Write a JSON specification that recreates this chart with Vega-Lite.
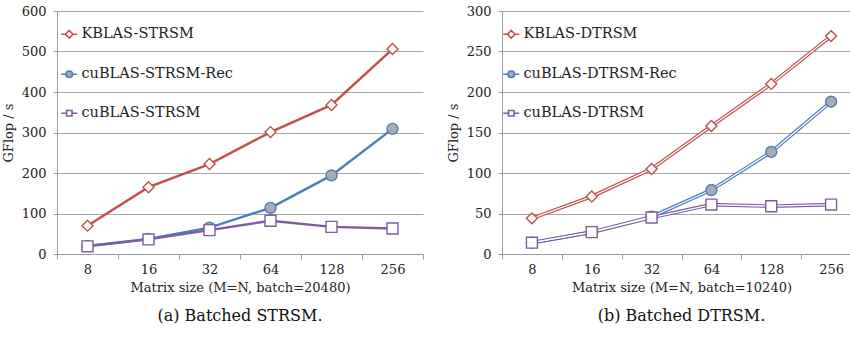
{
  "$schema": "https://vega.github.io/schema/vega-lite/v6.json",
  "background": "white",
  "padding": {"left": 2, "top": 5, "right": 0, "bottom": 5},
  "datasets": {
    "strsm": [
      {"size": "8", "series": "KBLAS-STRSM", "gflops": 70},
      {"size": "16", "series": "KBLAS-STRSM", "gflops": 165},
      {"size": "32", "series": "KBLAS-STRSM", "gflops": 222},
      {"size": "64", "series": "KBLAS-STRSM", "gflops": 301},
      {"size": "128", "series": "KBLAS-STRSM", "gflops": 368},
      {"size": "256", "series": "KBLAS-STRSM", "gflops": 506},
      {"size": "8", "series": "cuBLAS-STRSM-Rec", "gflops": 20},
      {"size": "16", "series": "cuBLAS-STRSM-Rec", "gflops": 37},
      {"size": "32", "series": "cuBLAS-STRSM-Rec", "gflops": 65},
      {"size": "64", "series": "cuBLAS-STRSM-Rec", "gflops": 114},
      {"size": "128", "series": "cuBLAS-STRSM-Rec", "gflops": 194},
      {"size": "256", "series": "cuBLAS-STRSM-Rec", "gflops": 309},
      {"size": "8", "series": "cuBLAS-STRSM", "gflops": 19},
      {"size": "16", "series": "cuBLAS-STRSM", "gflops": 36},
      {"size": "32", "series": "cuBLAS-STRSM", "gflops": 59},
      {"size": "64", "series": "cuBLAS-STRSM", "gflops": 82},
      {"size": "128", "series": "cuBLAS-STRSM", "gflops": 67},
      {"size": "256", "series": "cuBLAS-STRSM", "gflops": 63}
    ],
    "dtrsm": [
      {"size": "8", "series": "KBLAS-DTRSM", "gflops": 44},
      {"size": "16", "series": "KBLAS-DTRSM", "gflops": 71},
      {"size": "32", "series": "KBLAS-DTRSM", "gflops": 105},
      {"size": "64", "series": "KBLAS-DTRSM", "gflops": 158},
      {"size": "128", "series": "KBLAS-DTRSM", "gflops": 210},
      {"size": "256", "series": "KBLAS-DTRSM", "gflops": 269},
      {"size": "8", "series": "cuBLAS-DTRSM-Rec", "gflops": 14},
      {"size": "16", "series": "cuBLAS-DTRSM-Rec", "gflops": 27},
      {"size": "32", "series": "cuBLAS-DTRSM-Rec", "gflops": 46},
      {"size": "64", "series": "cuBLAS-DTRSM-Rec", "gflops": 79},
      {"size": "128", "series": "cuBLAS-DTRSM-Rec", "gflops": 126},
      {"size": "256", "series": "cuBLAS-DTRSM-Rec", "gflops": 188},
      {"size": "8", "series": "cuBLAS-DTRSM", "gflops": 14},
      {"size": "16", "series": "cuBLAS-DTRSM", "gflops": 27},
      {"size": "32", "series": "cuBLAS-DTRSM", "gflops": 45},
      {"size": "64", "series": "cuBLAS-DTRSM", "gflops": 61},
      {"size": "128", "series": "cuBLAS-DTRSM", "gflops": 59},
      {"size": "256", "series": "cuBLAS-DTRSM", "gflops": 61}
    ]
  },
  "config": {
    "font": "DejaVu Serif",
    "view": {"stroke": null},
    "concat": {"spacing": 23},
    "axis": {
      "labelFont": "DejaVu Serif",
      "titleFont": "DejaVu Serif",
      "labelFontSize": 13,
      "titleFontSize": 13,
      "titleFontWeight": "normal",
      "labelColor": "#222222",
      "titleColor": "#222222",
      "domainColor": "#9a9a9a",
      "tickColor": "#9a9a9a",
      "gridColor": "#a6a6a6",
      "gridWidth": 1
    },
    "legend": {
      "labelFont": "DejaVu Serif",
      "labelFontSize": 14.5,
      "labelColor": "#222222",
      "orient": "none",
      "legendY": 16,
      "rowPadding": 24,
      "symbolSize": 100,
      "labelOffset": 5,
      "padding": 0
    },
    "title": {"font": "DejaVu Serif", "fontSize": 16, "fontWeight": "normal", "color": "#111111"}
  },
  "resolve": {
    "scale": {"x": "independent", "y": "independent", "color": "independent", "fill": "independent", "shape": "independent"},
    "legend": {"color": "independent", "fill": "independent", "shape": "independent"}
  },
  "hconcat": [
    {
      "width": 366,
      "height": 243,
      "data": {"name": "strsm"},
      "title": {"text": "(a) Batched STRSM.", "orient": "bottom", "offset": 14},
      "encoding": {
        "x": {
          "field": "size", "type": "ordinal",
          "sort": ["8", "16", "32", "64", "128", "256"],
          "scale": {"type": "band", "paddingInner": 0, "paddingOuter": 0},
          "axis": {"title": "Matrix size (M=N, batch=20480)", "labelAngle": 0, "tickBand": "extent", "grid": false, "tickSize": 5, "labelPadding": 4, "titlePadding": 5}
        },
        "y": {
          "field": "gflops", "type": "quantitative",
          "scale": {"domain": [0, 600], "nice": false},
          "axis": {"title": "GFlop / s", "values": [0, 100, 200, 300, 400, 500, 600], "grid": true, "tickSize": 4, "labelPadding": 7, "titlePadding": 6}
        },
        "color": {"field": "series", "type": "nominal",
          "scale": {"domain": ["KBLAS-STRSM", "cuBLAS-STRSM-Rec", "cuBLAS-STRSM"], "range": ["#c0504d", "#4a7ebb", "#7d5d9e"]},
          "legend": {
            "title": null,
            "legendX": 5,
            "encode": {
              "symbols": {
                "update": {
                  "shape": {"signal": "datum.value === 'KBLAS-STRSM' ? 'M-1.6,0L-0.75,0M0.75,0L1.6,0M0,-0.75L0.75,0L0,0.75L-0.75,0Z' : datum.value === 'cuBLAS-STRSM-Rec' ? 'M-1.6,0L-0.65,0M0.65,0L1.6,0M-0.65,0A0.65,0.65 0 1,0 0.65,0A0.65,0.65 0 1,0 -0.65,0Z' : 'M-1.6,0L-0.55,0M0.55,0L1.6,0M-0.55,-0.55L0.55,-0.55L0.55,0.55L-0.55,0.55Z'"},
                  "stroke": {"signal": "datum.value === 'KBLAS-STRSM' ? '#c0504d' : datum.value === 'cuBLAS-STRSM-Rec' ? '#4a7ebb' : '#7d5d9e'"},
                  "fill": {"signal": "datum.value === 'cuBLAS-STRSM-Rec' ? '#a8acb2' : '#ffffff'"},
                  "strokeWidth": {"value": 1.6},
                  "size": {"value": 100},
                  "opacity": {"value": 1}
                }
              }
            }
          }}
      },
      "layer": [
        {
          "mark": {"type": "line", "strokeWidth": 2.4}
        },
        {
          "mark": {"type": "point", "filled": false, "opacity": 1, "strokeWidth": 1.4, "size": 120},
          "encoding": {
            "fill": {"field": "series", "type": "nominal", "legend": null,
              "scale": {"domain": ["cuBLAS-STRSM-Rec", "cuBLAS-STRSM", "KBLAS-STRSM"], "range": ["#a8acb2", "#ffffff", "#ffffff"]}},
            "shape": {"field": "series", "type": "nominal", "legend": null,
              "scale": {"domain": ["cuBLAS-STRSM", "KBLAS-STRSM", "cuBLAS-STRSM-Rec"], "range": ["square", "diamond", "circle"]}}
          }
        }
      ]
    },
    {
      "width": 359,
      "height": 243,
      "data": {"name": "dtrsm"},
      "title": {"text": "(b) Batched DTRSM.", "orient": "bottom", "offset": 14},
      "encoding": {
        "x": {
          "field": "size", "type": "ordinal",
          "sort": ["8", "16", "32", "64", "128", "256"],
          "scale": {"type": "band", "paddingInner": 0, "paddingOuter": 0},
          "axis": {"title": "Matrix size (M=N, batch=10240)", "labelAngle": 0, "tickBand": "extent", "grid": false, "tickSize": 5, "labelPadding": 4, "titlePadding": 5}
        },
        "y": {
          "field": "gflops", "type": "quantitative",
          "scale": {"domain": [0, 300], "nice": false},
          "axis": {"title": "GFlop / s", "values": [0, 50, 100, 150, 200, 250, 300], "grid": true, "tickSize": 4, "labelPadding": 7, "titlePadding": 6}
        }
      },
      "layer": [
        {
          "mark": {"type": "line", "strokeWidth": 3.6},
          "encoding": {
            "color": {"field": "series", "type": "nominal",
              "scale": {"domain": ["KBLAS-DTRSM", "cuBLAS-DTRSM-Rec", "cuBLAS-DTRSM"], "range": ["#c0504d", "#4a7ebb", "#7d5d9e"]},
              "legend": {
                "title": null,
                "legendX": 2,
                "encode": {
                  "symbols": {
                    "update": {
                      "shape": {"signal": "datum.value === 'KBLAS-DTRSM' ? 'M-1.6,0L-0.75,0M0.75,0L1.6,0M0,-0.75L0.75,0L0,0.75L-0.75,0Z' : datum.value === 'cuBLAS-DTRSM-Rec' ? 'M-1.6,0L-0.65,0M0.65,0L1.6,0M-0.65,0A0.65,0.65 0 1,0 0.65,0A0.65,0.65 0 1,0 -0.65,0Z' : 'M-1.6,0L-0.55,0M0.55,0L1.6,0M-0.55,-0.55L0.55,-0.55L0.55,0.55L-0.55,0.55Z'"},
                      "stroke": {"signal": "datum.value === 'KBLAS-DTRSM' ? '#c0504d' : datum.value === 'cuBLAS-DTRSM-Rec' ? '#4a7ebb' : '#7d5d9e'"},
                      "fill": {"signal": "datum.value === 'cuBLAS-DTRSM-Rec' ? '#a8acb2' : '#ffffff'"},
                      "strokeWidth": {"value": 1.6},
                      "size": {"value": 100},
                      "opacity": {"value": 1}
                    }
                  }
                }
              }}
          }
        },
        {
          "mark": {"type": "line", "strokeWidth": 1.3, "color": "#ffffff"},
          "encoding": {"detail": {"field": "series", "type": "nominal"}}
        },
        {
          "mark": {"type": "point", "filled": false, "opacity": 1, "strokeWidth": 1.4, "size": 120},
          "encoding": {
            "color": {"field": "series", "type": "nominal",
              "scale": {"domain": ["KBLAS-DTRSM", "cuBLAS-DTRSM-Rec", "cuBLAS-DTRSM"], "range": ["#c0504d", "#4a7ebb", "#7d5d9e"]},
              "legend": {
                "title": null,
                "legendX": 2,
                "encode": {
                  "symbols": {
                    "update": {
                      "shape": {"signal": "datum.value === 'KBLAS-DTRSM' ? 'M-1.6,0L-0.75,0M0.75,0L1.6,0M0,-0.75L0.75,0L0,0.75L-0.75,0Z' : datum.value === 'cuBLAS-DTRSM-Rec' ? 'M-1.6,0L-0.65,0M0.65,0L1.6,0M-0.65,0A0.65,0.65 0 1,0 0.65,0A0.65,0.65 0 1,0 -0.65,0Z' : 'M-1.6,0L-0.55,0M0.55,0L1.6,0M-0.55,-0.55L0.55,-0.55L0.55,0.55L-0.55,0.55Z'"},
                      "stroke": {"signal": "datum.value === 'KBLAS-DTRSM' ? '#c0504d' : datum.value === 'cuBLAS-DTRSM-Rec' ? '#4a7ebb' : '#7d5d9e'"},
                      "fill": {"signal": "datum.value === 'cuBLAS-DTRSM-Rec' ? '#a8acb2' : '#ffffff'"},
                      "strokeWidth": {"value": 1.6},
                      "size": {"value": 100},
                      "opacity": {"value": 1}
                    }
                  }
                }
              }},
            "fill": {"field": "series", "type": "nominal", "legend": null,
              "scale": {"domain": ["cuBLAS-DTRSM-Rec", "cuBLAS-DTRSM", "KBLAS-DTRSM"], "range": ["#a8acb2", "#ffffff", "#ffffff"]}},
            "shape": {"field": "series", "type": "nominal", "legend": null,
              "scale": {"domain": ["cuBLAS-DTRSM", "KBLAS-DTRSM", "cuBLAS-DTRSM-Rec"], "range": ["square", "diamond", "circle"]}}
          }
        }
      ]
    }
  ]
}
